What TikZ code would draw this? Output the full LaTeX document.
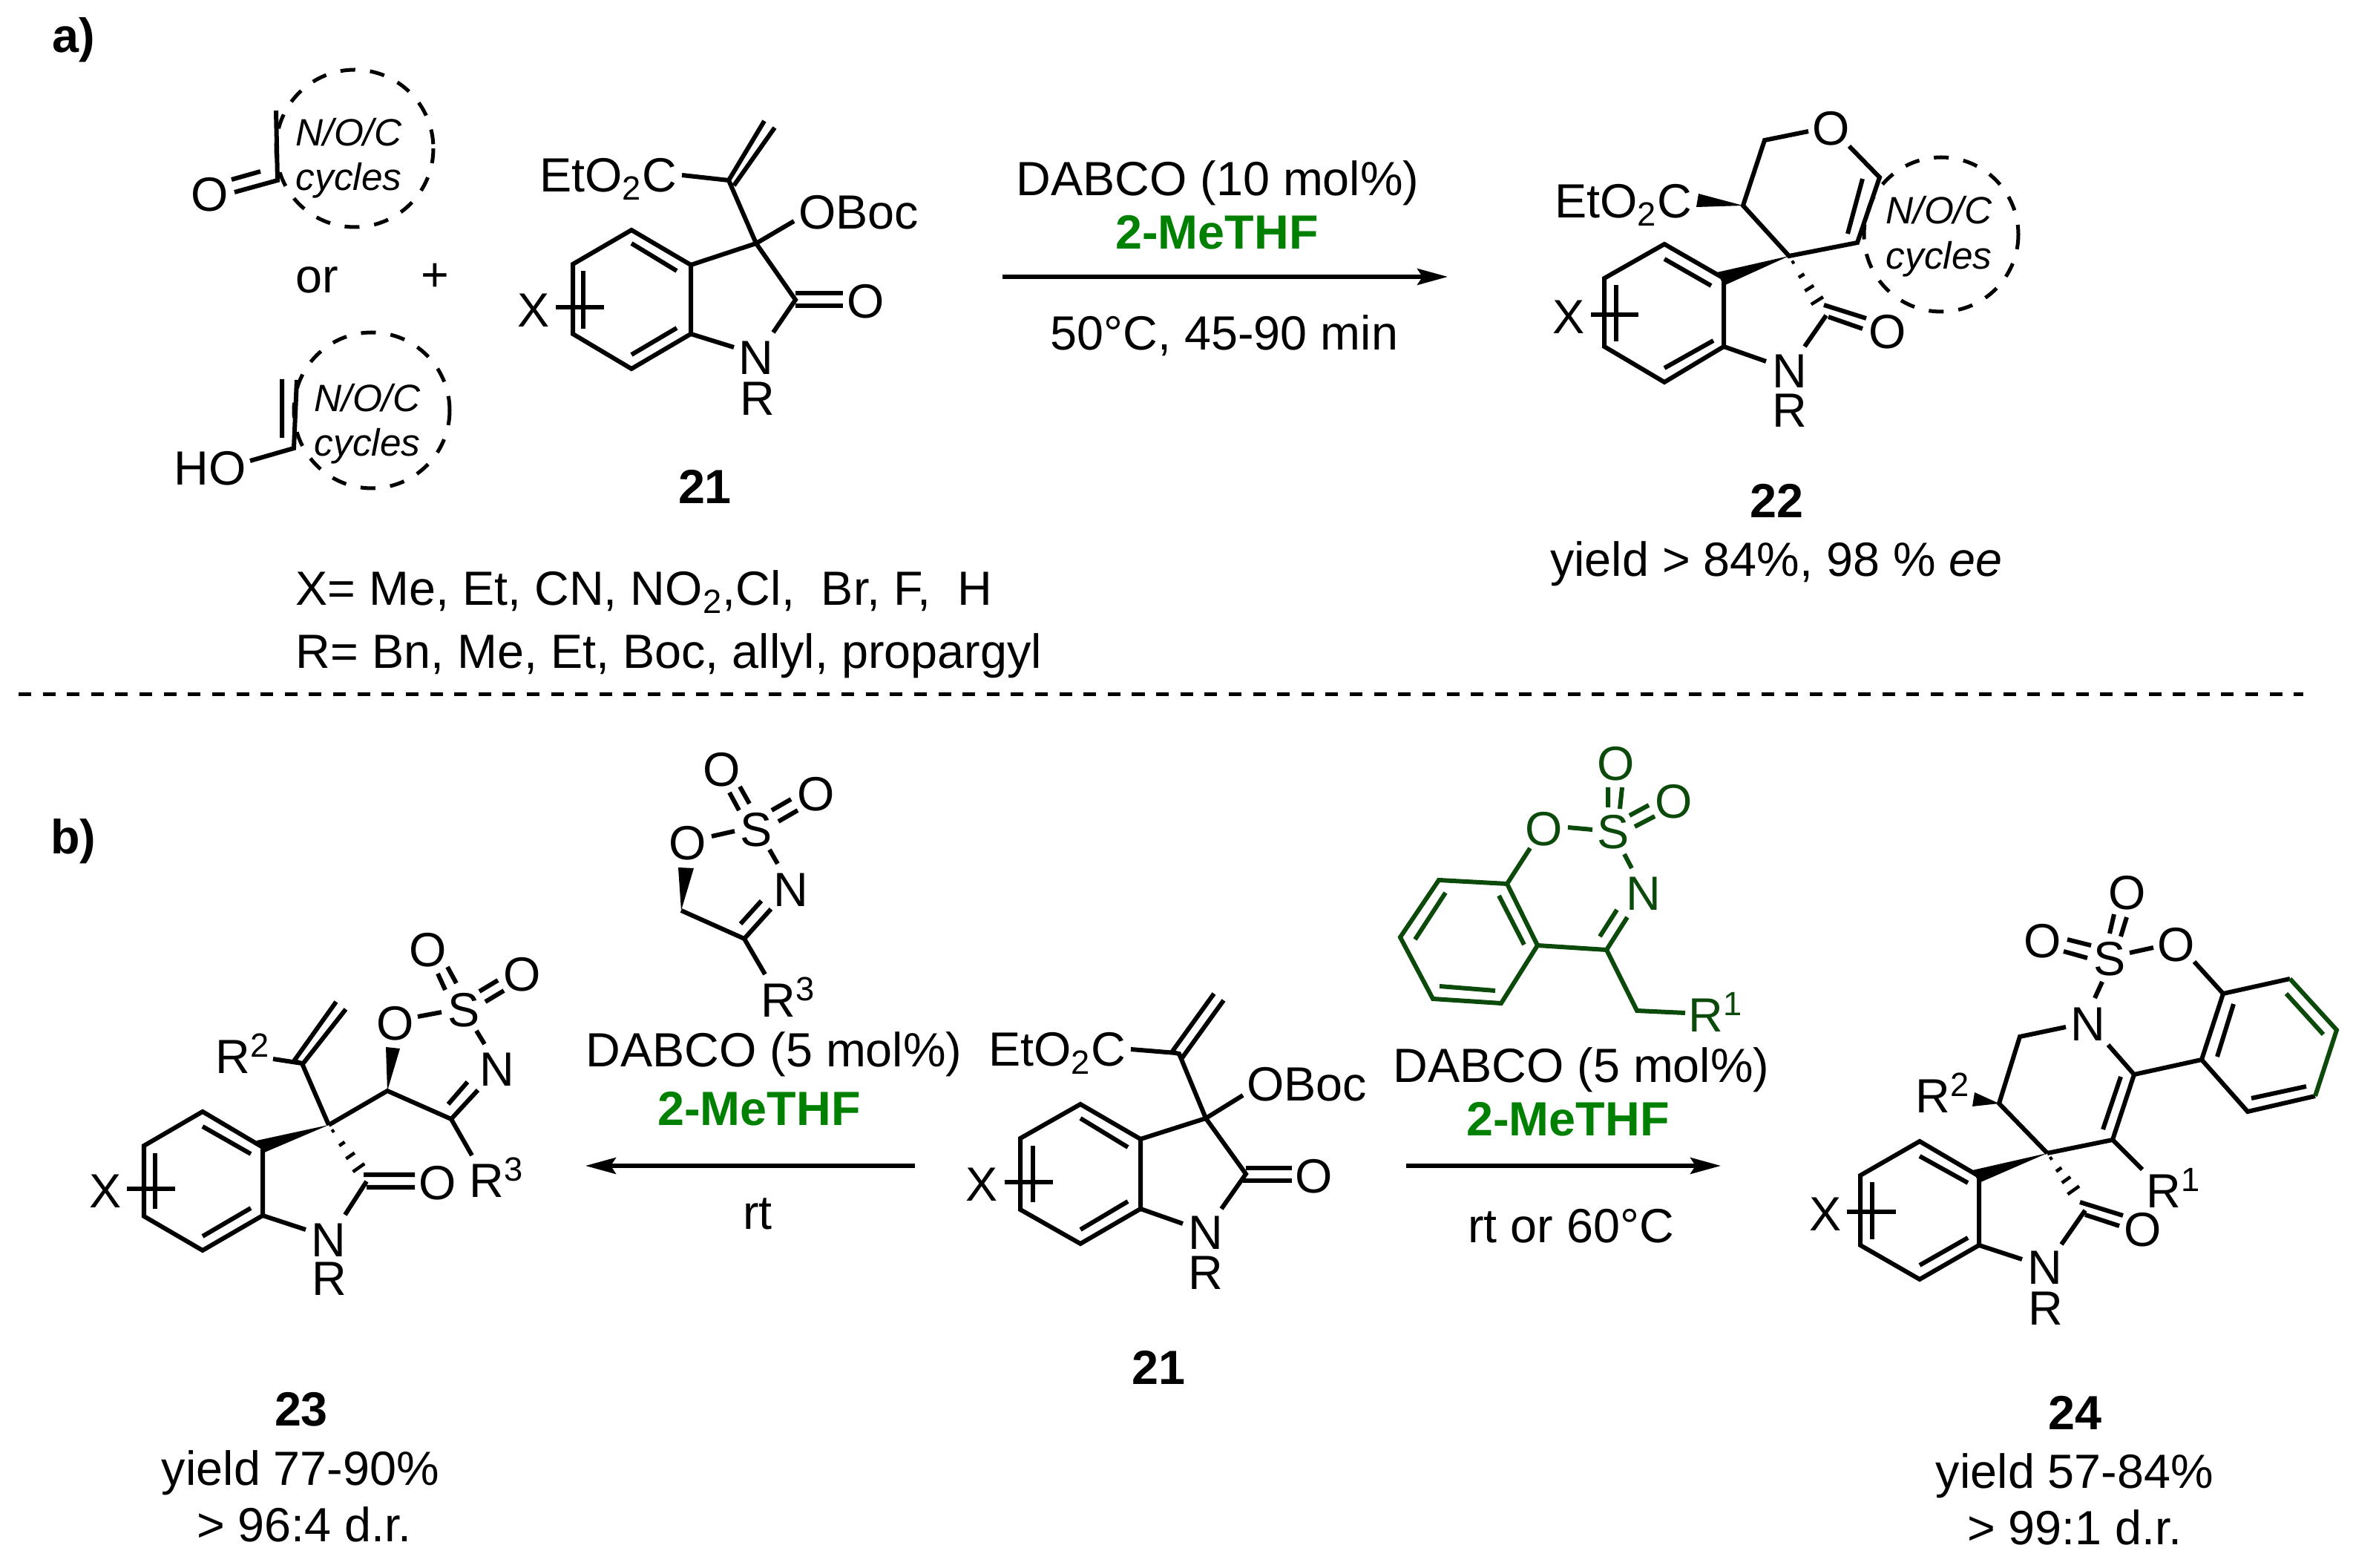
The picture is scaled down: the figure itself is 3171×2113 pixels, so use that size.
\documentclass[tikz,border=0pt]{standalone}
\usepackage{fontspec}
\setmainfont{Liberation Sans}
\usepackage{tikz}
\usetikzlibrary{calc,arrows.meta}
\definecolor{reagentgreen}{HTML}{008000}
\definecolor{darkgreen}{HTML}{0B4A0B}
\newcommand{\hashbond}[2]{\foreach \t/\w in {0.12/0.02,0.38/0.045,0.62/0.07,0.86/0.095}{\draw[hashline] ($(#1)!\t!(#2)!\w cm!90:(#2)$) -- ($(#1)!\t!(#2)!\w cm!-90:(#2)$);}}
\tikzset{
  atom/.style={font=\fontsize{18.4}{22}\selectfont, inner sep=0pt, anchor=base},
  boldatom/.style={atom, font=\fontsize{18.4}{22}\selectfont\bfseries},
  lead/.style={atom, anchor=base west},
  cyclelabel/.style={font=\fontsize{14.6}{18}\selectfont\itshape, inner sep=0pt, anchor=base},
  bond/.style={line width=0.06cm, line cap=butt, line join=miter},
  hashline/.style={line width=0.045cm},
  wedge/.style={fill=black, draw=none},
  ringdash/.style={line width=0.05cm, dash pattern=on 0.2cm off 0.2cm},
  rxn/.style={line width=0.053cm, -{Stealth[length=0.41cm,width=0.22cm,inset=0.07cm]}},
}
\begin{document}
\begin{tikzpicture}[x=0.01cm, y=-0.01cm]
\useasboundingbox (0,0) rectangle (3171,2113);
% part a
\node (parta) [boldatom] at (99,71) {a)};
% ketone
\draw[ringdash] (478,200) circle [radius=106];
\draw[bond] (372,149) -- (374,243) -- (316,259) (351,231) -- (312,242);
\node (oketo) [atom] at (283,285) {O};
\node (cyclea) [cyclelabel] at (470,197) {N/O/C};
\node (cycleb) [cyclelabel] at (470,257) {cycles};
\node (ortext) [atom] at (427,395) {or};
\node (plus) [atom] at (586,393) {+};
% enol
\draw[ringdash] (501,553) circle [radius=105];
\draw[bond] (380,511) -- (380,590) (400,512) -- (396,604) -- (337,621);
\node (hoenol) [atom] at (283,654) {HO};
\node (cyclec) [cyclelabel] at (495,555) {N/O/C};
\node (cycled) [cyclelabel] at (495,615) {cycles};
% 21 top
\draw[bond] (851,310) -- (772,356) -- (772,450) -- (851,497) -- (931,450) -- (931,357) -- cycle;
\draw[bond] (851,328) -- (912,365) (851,478) -- (912,442);
\draw[bond] (749,414) -- (814,414) (786,365) -- (786,443);
\draw[bond] (931,357) -- (1019,328) -- (982,243) -- (1030,163) (989,250) -- (1044,172) (982,243) -- (919,236);
\draw[bond] (1019,328) -- (1070,298) (1019,328) -- (1072,404) -- (1042,448) (931,450) -- (989,468);
\draw[bond] (1072,395) -- (1136,395) (1072,412) -- (1136,412);
\node (xa) [atom] at (719,441) {X};
\node (esta) [atom] at (820,259) {EtO\textsubscript{2}C};
\node (boca) [atom] at (1157,309) {OBoc};
\node (oa) [atom] at (1167,429) {O};
\node (na) [atom] at (1019,505) {N};
\node (ra) [atom] at (1021,560) {R};
\node (numa) [boldatom] at (950,679) {21};
\node (xlist) [lead] at (398,816) {X= Me, Et, CN, NO\textsubscript{2},Cl,\ \ Br, F,\ \ H};
\node (rlist) [lead] at (398,901) {R= Bn, Me, Et, Boc, allyl, propargyl};
% arrow a
\coordinate (arrowastart) at (1351,373);
\coordinate (arrowaend) at (1951,373);
\draw[rxn] (arrowastart) -- (arrowaend);
\node (cata) [atom] at (1641,264) {DABCO (10 mol\%)};
\node (solva) [atom, boldatom, text=reagentgreen] at (1640,336) {2-MeTHF};
\node (conda) [atom] at (1650,472) {50°C, 45-90 min};
% 22
\draw[ringdash] (2616,316) circle [radius=104];
\draw[bond] (2243,329) -- (2162,375) -- (2162,467) -- (2243,515) -- (2323,467) -- (2323,375) -- cycle;
\draw[bond] (2243,349) -- (2306,385) (2243,496) -- (2309,459);
\draw[bond] (2144,424) -- (2208,424) (2178,384) -- (2178,460);
\draw[bond] (2437,177) -- (2378,189) -- (2349,277) -- (2411,345) -- (2503,327) -- (2533,239) -- (2492,197);
\draw[bond] (2490,315) -- (2510,241);
\fill[wedge] (2349,277) -- (2289,261) -- (2286,279) -- cycle;
\fill[wedge] (2411,345) -- (2314,367) -- (2323,385) -- cycle;
\hashbond{2411,345}{2455,415}
\draw[bond] (2323,467) -- (2380,487) (2461,425) -- (2432,467) (2458,411) -- (2515,429) (2464,427) -- (2510,443);
\node (xb) [atom] at (2114,450) {X};
\node (estb) [atom] at (2188,294) {EtO\textsubscript{2}C};
\node (ob) [atom] at (2468,196) {O};
\node (oc) [atom] at (2544,470) {O};
\node (nb) [atom] at (2412,523) {N};
\node (rb) [atom] at (2412,576) {R};
\node (cyclee) [cyclelabel] at (2613,302) {N/O/C};
\node (cyclef) [cyclelabel] at (2613,363) {cycles};
\node (numb) [boldatom] at (2394,698) {22};
\node (yieldb) [atom] at (2394,777) {yield > 84\%, 98 \% \textit{ee}};
% divider
\coordinate (divstart) at (25,936);
\coordinate (divend) at (3104,936);
\draw[line width=0.05cm, dash pattern=on 0.17cm off 0.156cm] (divstart) -- (divend);
% part b
\node (partb) [boldatom] at (99,1151) {b)};
% 23
\draw[bond] (273,1498) -- (194,1544) -- (194,1639) -- (273,1685) -- (354,1638) -- (354,1546) -- cycle;
\draw[bond] (273,1518) -- (338,1555) (273,1666) -- (338,1628);
\draw[bond] (171,1602) -- (236,1602) (209,1554) -- (209,1629);
\fill[wedge] (443,1516) -- (346,1537) -- (354,1554) -- cycle;
\draw[bond] (443,1516) -- (407,1433) -- (396,1430) -- (453,1350) (407,1435) -- (466,1360) (368,1427) -- (407,1433);
\draw[bond] (443,1516) -- (522,1470) -- (608,1508) -- (644,1469) (604,1488) -- (630,1458) (608,1508) -- (636,1557);
\fill[wedge] (522,1470) -- (520,1411) -- (539,1413) -- cycle;
\draw[bond] (563,1370) -- (595,1364) (590,1312) -- (600,1334) (603,1303) -- (615,1325);
\draw[bond] (646,1336) -- (671,1321) (654,1350) -- (679,1335) (642,1389) -- (653,1407);
\hashbond{443,1516}{490,1583}
\draw[bond] (490,1583) -- (559,1583) (494,1600) -- (559,1600) (494,1592) -- (465,1637) (354,1638) -- (412,1657);
\node (xc) [atom] at (142,1628) {X};
\node (rtwoa) [lead] at (290,1447) {R\textsuperscript{2}};
\node (oringa) [atom] at (533,1402) {O};
\node (sa) [atom] at (625,1384) {S};
\node (osa) [atom] at (577,1303) {O};
\node (osb) [atom] at (704,1336) {O};
\node (nringa) [atom] at (670,1464) {N};
\node (rthreea) [lead] at (632,1614) {R\textsuperscript{3}};
\node (od) [atom] at (590,1617) {O};
\node (nc) [atom] at (443,1693) {N};
\node (rc) [atom] at (444,1745) {R};
\node (numc) [boldatom] at (406,1922) {23};
\node (yieldc) [atom] at (405,2001) {yield 77-90\%};
\node (drc) [atom] at (410,2077) {> 96:4 d.r.};
% sultamate reagent
\draw[bond] (983,1068) -- (996,1092) (997,1060) -- (1010,1083) (1040,1092) -- (1066,1077) (1049,1107) -- (1075,1092);
\draw[bond] (959,1127) -- (990,1120) (1037,1145) -- (1048,1164);
\fill[wedge] (918,1227) -- (914,1169) -- (935,1170) -- cycle;
\draw[bond] (918,1227) -- (1003,1265) -- (1039,1225) (998,1245) -- (1026,1214) (1003,1265) -- (1031,1313);
\node (osc) [atom] at (973,1060) {O};
\node (osd) [atom] at (1100,1093) {O};
\node (sb) [atom] at (1019,1141) {S};
\node (oringb) [atom] at (927,1159) {O};
\node (nringb) [atom] at (1066,1222) {N};
\node (rthreeb) [lead] at (1025,1371) {R\textsuperscript{3}};
\node (catb) [atom] at (1043,1438) {DABCO (5 mol\%)};
\node (solvb) [boldatom, text=reagentgreen] at (1023,1517) {2-MeTHF};
\node (rtb) [atom] at (1021,1657) {rt};
\coordinate (arrowbstart) at (1233,1571);
\coordinate (arrowbend) at (789,1571);
\draw[rxn] (arrowbstart) -- (arrowbend);
% 21 bottom
\draw[bond] (1456,1488) -- (1375,1534) -- (1375,1630) -- (1456,1676) -- (1537,1629) -- (1537,1535) -- cycle;
\draw[bond] (1456,1507) -- (1520,1546) (1456,1657) -- (1520,1619);
\draw[bond] (1354,1593) -- (1419,1593) (1392,1544) -- (1392,1620);
\draw[bond] (1537,1535) -- (1625,1507) -- (1589,1420) -- (1579,1418) -- (1636,1339) (1592,1427) -- (1649,1348) (1524,1414) -- (1585,1419);
\draw[bond] (1625,1507) -- (1675,1476) (1625,1507) -- (1679,1582) -- (1646,1629) (1537,1629) -- (1594,1649);
\draw[bond] (1679,1574) -- (1741,1574) (1675,1591) -- (1741,1591);
\node (xd) [atom] at (1323,1619) {X};
\node (estc) [atom] at (1425,1437) {EtO\textsubscript{2}C};
\node (bocb) [atom] at (1761,1484) {OBoc};
\node (oe) [atom] at (1771,1608) {O};
\node (nd) [atom] at (1625,1684) {N};
\node (rd) [atom] at (1625,1738) {R};
\node (numd) [boldatom] at (1561,1865) {21};
% benzoxathiazine reagent
\begin{scope}[darkgreen, text=darkgreen]
\draw[bond] (1939,1186) -- (2031,1191) -- (2072,1274) -- (2023,1352) -- (1931,1346) -- (1887,1263) -- cycle;
\draw[bond] (2020,1207) -- (2054,1273) (1940,1329) -- (2015,1335) (1948,1203) -- (1907,1266);
\draw[bond] (2031,1191) -- (2062,1143) (2072,1274) -- (2165,1280) -- (2193,1236) (2156,1262) -- (2179,1226);
\draw[bond] (2165,1280) -- (2206,1362) -- (2271,1365);
\draw[bond] (2167,1061) -- (2167,1088) (2186,1061) -- (2183,1090) (2196,1099) -- (2222,1085) (2203,1114) -- (2230,1100);
\draw[bond] (2113,1115) -- (2146,1118) (2189,1151) -- (2199,1170);
\node (ose) [atom] at (2178,1052) {O};
\node (osf) [atom] at (2256,1103) {O};
\node (sc) [atom] at (2174,1144) {S};
\node (oringc) [atom] at (2081,1140) {O};
\node (nringc) [atom] at (2215,1227) {N};
\node (ronea) [lead] at (2275,1391) {R\textsuperscript{1}};
\end{scope}
\node (catc) [atom] at (2131,1459) {DABCO (5 mol\%)};
\node (solvc) [boldatom, text=reagentgreen] at (2113,1531) {2-MeTHF};
\node (rtc) [atom] at (2117,1675) {rt or 60°C};
\coordinate (arrowcstart) at (1895,1571);
\coordinate (arrowcend) at (2319,1571);
\draw[rxn] (arrowcstart) -- (arrowcend);
% 24
\draw[bond] (2587,1538) -- (2507,1584) -- (2507,1678) -- (2587,1724) -- (2667,1678) -- (2667,1585) -- cycle;
\draw[bond] (2587,1558) -- (2652,1594) (2587,1705) -- (2652,1668);
\draw[bond] (2489,1633) -- (2555,1633) (2523,1593) -- (2523,1670);
\fill[wedge] (2759,1554) -- (2658,1577) -- (2667,1594) -- cycle;
\draw[bond] (2759,1554) -- (2847,1536) -- (2876,1448) -- (2841,1408) (2834,1522) -- (2858,1451);
\draw[bond] (2784,1384) -- (2722,1397) -- (2694,1487) -- (2759,1554);
\fill[wedge] (2694,1487) -- (2661,1472) -- (2658,1491) -- cycle;
\draw[bond] (2847,1536) -- (2887,1576) (2823,1345) -- (2833,1323);
\draw[bond] (2849,1232) -- (2843,1258) (2866,1236) -- (2858,1262) (2786,1266) -- (2818,1274) (2781,1282) -- (2813,1291);
\draw[bond] (2870,1284) -- (2902,1277) (2957,1296) -- (2996,1339) (2876,1448) -- (2967,1428);
\draw[bond] (3086,1319) -- (2996,1339) -- (2967,1428) -- (3029,1498) -- (3120,1477);
\draw[bond, darkgreen] (3086,1319) -- (3149,1388) -- (3120,1477) (3081,1339) -- (3131,1394);
\draw[bond] (3010,1353) -- (2988,1424) (3034,1480) -- (3108,1464);
\hashbond{2759,1554}{2800,1612}
\draw[bond] (2803,1620) -- (2861,1638) (2810,1637) -- (2856,1652) (2810,1631) -- (2778,1677) (2667,1678) -- (2725,1697);
\node (xe) [atom] at (2460,1659) {X};
\node (rtwob) [lead] at (2581,1500) {R\textsuperscript{2}};
\node (ronb) [lead] at (2892,1628) {R\textsuperscript{1}};
\node (ne) [atom] at (2814,1403) {N};
\node (sd) [atom] at (2843,1315) {S};
\node (osg) [atom] at (2867,1226) {O};
\node (osh) [atom] at (2753,1291) {O};
\node (oringd) [atom] at (2933,1296) {O};
\node (of) [atom] at (2888,1680) {O};
\node (nf) [atom] at (2756,1731) {N};
\node (rf) [atom] at (2757,1786) {R};
\node (nume) [boldatom] at (2796,1926) {24};
\node (yielde) [atom] at (2796,2005) {yield 57-84\%};
\node (dre) [atom] at (2796,2081) {> 99:1 d.r.};
\end{tikzpicture}
\end{document}
